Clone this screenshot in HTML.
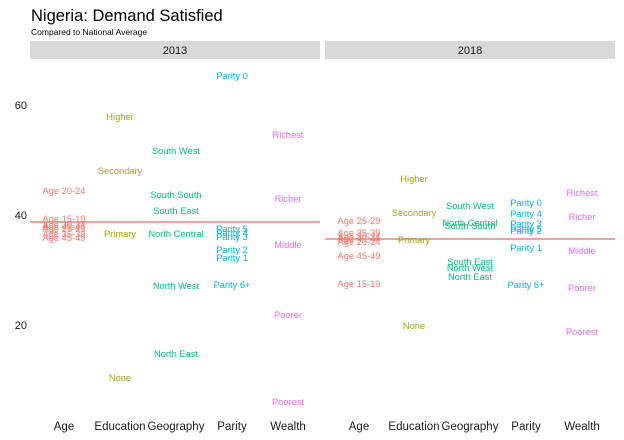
<!DOCTYPE html>
<html><head><meta charset="utf-8"><style>
body{margin:0;background:#fff}
svg{display:block;font-family:"Liberation Sans",sans-serif}
.a{fill:#F8766D}.e{fill:#A3A500}.g{fill:#00BF7D}.p{fill:#00B0F6}.w{fill:#E76BF3}
.l text{font-size:9.3px;text-anchor:middle;dominant-baseline:central}
.ax{font-size:11.5px;fill:#1a1a1a;text-anchor:middle}
</style></head><body>
<svg width="624" height="440" viewBox="0 0 624 440">
<text x="31" y="21" font-size="16.5" fill="#000">Nigeria: Demand Satisfied</text>
<text x="31" y="35" font-size="8.5" fill="#000">Compared to National Average</text>
<rect x="30" y="41" width="290" height="18" fill="#d9d9d9"/>
<rect x="325" y="41" width="290" height="18" fill="#d9d9d9"/>
<text x="175" y="54" font-size="11" text-anchor="middle" fill="#1a1a1a">2013</text>
<text x="470" y="54" font-size="11" text-anchor="middle" fill="#1a1a1a">2018</text>
<g font-size="11" fill="#1a1a1a" text-anchor="end">
<text x="27" y="109">60</text><text x="27" y="219">40</text><text x="27" y="329">20</text></g>
<line x1="30" y1="222" x2="320" y2="222" stroke="#e8474a" stroke-width="1"/>
<line x1="325" y1="239" x2="615" y2="239" stroke="#e8474a" stroke-width="1"/>
<g class="l">
<text class="p" x="232" y="76">Parity 0</text>
<text class="e" x="120" y="117">Higher</text>
<text class="w" x="288" y="135">Richest</text>
<text class="g" x="176" y="151">South West</text>
<text class="e" x="120" y="171">Secondary</text>
<text class="a" x="64" y="191">Age 20-24</text>
<text class="g" x="176" y="195">South South</text>
<text class="w" x="288" y="199">Richer</text>
<text class="g" x="176" y="211">South East</text>
<text class="a" x="64" y="219">Age 15-19</text>
<text class="a" x="64" y="225">Age 30-34</text>
<text class="a" x="64" y="227">Age 40-44</text>
<text class="a" x="64" y="229">Age 25-29</text>
<text class="a" x="64" y="234">Age 35-39</text>
<text class="a" x="64" y="238">Age 45-49</text>
<text class="p" x="232" y="229">Parity 5</text>
<text class="p" x="232" y="233">Parity 4</text>
<text class="p" x="232" y="237">Parity 3</text>
<text class="e" x="120" y="234">Primary</text>
<text class="g" x="176" y="234">North Central</text>
<text class="w" x="288" y="245">Middle</text>
<text class="p" x="232" y="250">Parity 2</text>
<text class="p" x="232" y="258">Parity 1</text>
<text class="p" x="232" y="285">Parity 6+</text>
<text class="g" x="176" y="286">North West</text>
<text class="w" x="288" y="315">Poorer</text>
<text class="g" x="176" y="354">North East</text>
<text class="e" x="120" y="378">None</text>
<text class="w" x="288" y="402">Poorest</text>

<text class="e" x="414" y="179">Higher</text>
<text class="w" x="582" y="193">Richest</text>
<text class="p" x="526" y="203">Parity 0</text>
<text class="g" x="470" y="206">South West</text>
<text class="e" x="414" y="213">Secondary</text>
<text class="p" x="526" y="214">Parity 4</text>
<text class="w" x="582" y="217">Richer</text>
<text class="a" x="359" y="221">Age 25-29</text>
<text class="g" x="470" y="223">North Central</text>
<text class="g" x="470" y="226">South South</text>
<text class="p" x="526" y="224">Parity 3</text>
<text class="p" x="526" y="229">Parity 5</text>
<text class="p" x="526" y="231">Parity 2</text>
<text class="a" x="359" y="233">Age 35-39</text>
<text class="a" x="359" y="237">Age 30-34</text>
<text class="a" x="359" y="239">Age 40-44</text>
<text class="e" x="414" y="240">Primary</text>
<text class="a" x="359" y="242">Age 20-24</text>
<text class="p" x="526" y="248">Parity 1</text>
<text class="w" x="582" y="251">Middle</text>
<text class="a" x="359" y="256">Age 45-49</text>
<text class="g" x="470" y="262">South East</text>
<text class="g" x="470" y="268">North West</text>
<text class="g" x="470" y="277">North East</text>
<text class="a" x="359" y="284">Age 15-19</text>
<text class="p" x="526" y="285">Parity 6+</text>
<text class="w" x="582" y="288">Poorer</text>
<text class="e" x="414" y="326">None</text>
<text class="w" x="582" y="332">Poorest</text>
</g>
<g class="ax">
<text x="64" y="430">Age</text><text x="120" y="430">Education</text><text x="176" y="430">Geography</text><text x="232" y="430">Parity</text><text x="288" y="430">Wealth</text>
<text x="359" y="430">Age</text><text x="414" y="430">Education</text><text x="470" y="430">Geography</text><text x="526" y="430">Parity</text><text x="582" y="430">Wealth</text>
</g>
</svg>
</body></html>
